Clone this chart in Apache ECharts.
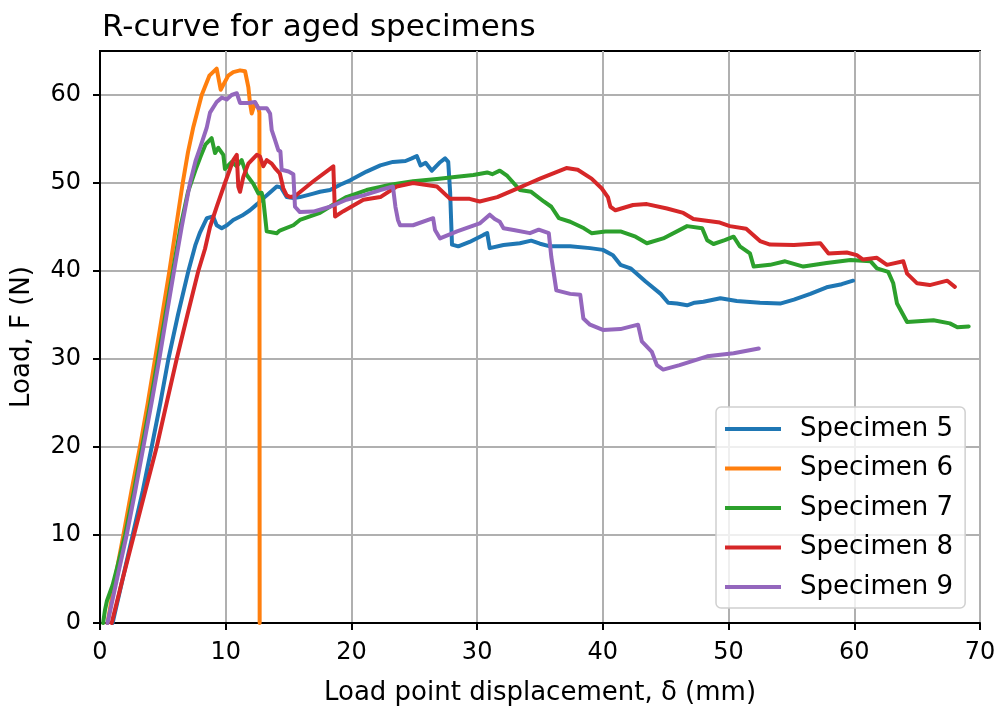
<!DOCTYPE html>
<html>
<head>
<meta charset="utf-8">
<script src="https://cdn.jsdelivr.net/npm/echarts@6/dist/echarts.min.js"></script>
<style>
html,body{margin:0;padding:0;background:#fff;}
#chart{width:999px;height:707px;}
</style>
</head>
<body>
<div id="chart"></div>
<script>
const seriesNames = ['Specimen 5','Specimen 6','Specimen 7','Specimen 8','Specimen 9'];
const colors = ['#1f77b4','#ff7f0e','#2ca02c','#d62728','#9467bd'];
const xTicks = [0,10,20,30,40,50,60,70];
const yTicks = [0,10,20,30,40,50,60];

const specimen5 = [[1.0,0],[1.8,5],[2.6,10],[3.4,15],[4.11,20],[4.8,25],[5.44,30],[6.2,35],[7.03,40],[7.6,43],[7.96,44.4],[8.5,46.0],[9.0,46.2],[9.28,45.2],[9.68,44.85],[10.1,45.2],[10.6,45.8],[11.3,46.3],[11.93,46.9],[12.5,47.6],[12.99,48.25],[13.5,48.9],[14.06,49.6],[14.4,49.5],[14.85,48.4],[15.4,48.3],[15.9,48.4],[16.97,48.8],[17.5,49.0],[18.3,49.2],[19.1,49.8],[19.9,50.3],[21.2,51.3],[22.3,52.0],[23.3,52.4],[24.3,52.5],[24.8,52.8],[25.2,53.07],[25.5,52.0],[25.9,52.3],[26.4,51.4],[27.0,52.3],[27.45,52.8],[27.7,52.4],[27.85,49],[28.0,43.0],[28.5,42.8],[29.4,43.3],[30.5,44.1],[30.8,44.3],[31.0,42.6],[32.1,42.95],[33.4,43.15],[34.3,43.45],[35.0,43.1],[35.8,42.8],[37.4,42.8],[38.98,42.6],[40.0,42.4],[40.8,41.8],[41.4,40.7],[42.2,40.3],[43.4,38.8],[44.6,37.4],[45.2,36.4],[45.9,36.3],[46.7,36.1],[47.3,36.4],[48.0,36.5],[49.35,36.9],[50.65,36.6],[52.5,36.4],[54.1,36.3],[55.2,36.75],[56.5,37.4],[57.8,38.15],[59.0,38.5],[59.9,38.9]];

const specimen6 = [[0.6,0],[1.2,5],[1.86,10],[2.5,15],[3.18,20],[3.8,25],[4.38,30],[4.95,35],[5.52,40],[6.05,45],[6.58,50],[7.0,53.5],[7.43,56.4],[8.09,60],[8.7,62.2],[9.28,63.0],[9.6,60.6],[10.2,62.2],[10.6,62.6],[11.14,62.8],[11.54,62.7],[11.8,60.9],[11.93,59.1],[12.07,57.9],[12.33,59.1],[12.6,58.5],[12.68,58],[12.7,0]];

const specimen7 = [[0.25,0],[0.4,1.5],[0.55,2.5],[0.8,3.5],[1.0,4.3],[1.4,6.5],[2.0,10],[2.7,15],[3.35,20],[4.0,25],[4.6,30],[5.2,35],[5.8,40],[6.4,45],[7.0,49],[7.6,51.5],[8.0,53],[8.4,54.4],[8.88,55.1],[9.15,53.4],[9.41,54.0],[9.81,53.2],[9.94,51.6],[10.48,52.4],[10.88,51.9],[11.27,52.6],[11.67,50.9],[12.2,49.9],[12.6,48.8],[12.86,48.9],[12.99,48.1],[13.26,44.5],[14.06,44.3],[14.3,44.6],[15.38,45.2],[15.9,45.8],[17.5,46.6],[18.5,47.5],[19.6,48.4],[21.2,49.2],[23.1,49.8],[24.9,50.2],[26.8,50.45],[28.4,50.7],[29.7,50.9],[30.8,51.2],[31.2,51.0],[31.8,51.4],[32.4,50.8],[32.9,50.0],[33.4,49.2],[34.3,49.0],[35.3,47.9],[35.9,47.3],[36.5,46.0],[37.4,45.6],[38.5,44.85],[39.1,44.3],[40.2,44.5],[41.4,44.5],[42.6,43.9],[43.5,43.15],[44.8,43.7],[46.7,45.1],[47.9,44.85],[48.3,43.5],[48.8,43.07],[49.7,43.5],[50.4,43.9],[50.9,42.8],[51.7,42.0],[52.0,40.5],[53.3,40.7],[54.5,41.1],[55.95,40.5],[57.8,40.9],[59.7,41.25],[61.3,41.1],[61.8,40.3],[62.7,39.9],[63.1,38.6],[63.4,36.3],[64.2,34.2],[66.3,34.4],[67.6,34.05],[68.2,33.6],[69.1,33.7]];

const specimen8 = [[0.93,0],[1.8,5],[2.7,10],[3.6,15],[4.51,20],[5.3,25],[6.1,30],[6.95,35],[7.82,40],[8.35,42.5],[8.75,45],[9.28,47.3],[9.94,50],[10.6,52.6],[10.88,53.2],[11.0,49.6],[11.14,49.0],[11.4,50.7],[11.8,52.2],[12.47,53.2],[12.73,53],[12.99,51.9],[13.26,52.6],[13.66,52.2],[13.92,51.7],[14.3,51.1],[14.58,49.4],[14.85,48.6],[15.1,48.4],[15.5,48.5],[16.97,50.2],[18.56,51.9],[18.7,46.2],[19.36,46.8],[20.95,48.1],[22.3,48.4],[23.6,49.6],[24.9,50.0],[26.8,49.6],[27.85,48.2],[29.4,48.2],[30.2,47.9],[31.6,48.4],[32.9,49.2],[34.2,50.0],[35.0,50.5],[37.1,51.7],[38.0,51.5],[39.1,50.5],[39.9,49.4],[40.4,48.4],[40.6,47.3],[41.0,46.9],[42.4,47.5],[43.5,47.6],[45.1,47.1],[46.4,46.6],[47.2,45.9],[49.3,45.5],[50.1,45.1],[51.4,44.8],[52.5,43.4],[53.3,43.0],[55.2,42.95],[57.3,43.15],[57.95,42.0],[59.4,42.1],[60.2,41.8],[60.7,41.3],[61.8,41.5],[62.6,40.7],[63.9,41.1],[64.2,39.7],[65.0,38.6],[66.0,38.4],[67.4,38.9],[68.0,38.2]];

const specimen9 = [[0.6,0],[1.35,5],[2.12,10],[2.8,15],[3.45,20],[4.1,25],[4.72,30],[5.3,35],[5.89,40],[6.5,45],[7.16,50],[7.6,52.5],[7.96,54],[8.49,56.3],[8.75,58.0],[9.28,59.2],[9.68,59.7],[10.08,59.5],[10.47,60.0],[10.88,60.2],[11.14,59.1],[11.8,59.1],[12.33,59.2],[12.6,58.5],[13.26,58.5],[13.53,57.9],[13.66,56.0],[13.92,54.9],[14.19,53.7],[14.35,53.6],[14.45,51.5],[15.0,51.3],[15.38,51.0],[15.51,47.3],[15.9,46.7],[16.97,46.75],[18.3,47.3],[19.6,48.1],[20.95,48.6],[22.3,49.2],[23.3,49.6],[23.5,47.3],[23.7,45.8],[23.87,45.2],[24.9,45.2],[26.5,46.0],[26.65,44.66],[27.05,43.7],[28.4,44.5],[30.2,45.4],[31.0,46.4],[31.4,45.9],[31.8,45.6],[32.1,44.85],[32.9,44.66],[34.2,44.3],[34.9,44.7],[35.7,44.3],[35.9,41.6],[36.3,37.8],[37.4,37.4],[38.2,37.3],[38.45,34.6],[38.98,33.9],[40.0,33.3],[41.4,33.4],[42.8,33.9],[43.1,32.0],[43.9,30.8],[44.3,29.3],[44.8,28.8],[46.1,29.3],[48.3,30.3],[50.4,30.65],[52.4,31.2]];

const allData = [specimen5, specimen6, specimen7, specimen8, specimen9];
const FONT = 'DejaVu Sans';

const chart = echarts.init(document.getElementById('chart'), null, {renderer:'canvas'});
chart.setOption({
  animation: false,
  backgroundColor: '#fff',
  title: {
    text: 'R-curve for aged specimens',
    left: 97, top: 7,
    textStyle: {fontFamily: FONT, fontSize: 31, fontWeight: 'normal', color: '#000'}
  },
  grid: {left: 100, right: 19, top: 51, bottom: 84, show: true, borderColor: '#000', borderWidth: 2, backgroundColor: 'transparent',
    containLabel: false, outerBoundsMode: 'none'},
  legend: {
    orient: 'vertical', left: 716, top: 407,
    data: seriesNames,
    icon: 'rect',
    itemWidth: 56, itemHeight: 4, itemGap: 13.5,
    padding: [9, 12, 8, 9],
    backgroundColor: 'rgba(255,255,255,0.8)',
    borderColor: '#d0d0d0', borderWidth: 1.5, borderRadius: 5,
    textStyle: {fontFamily: FONT, fontSize: 26, lineHeight: 26, color: '#000', padding: [0,0,0,14]}
  },
  xAxis: {
    type: 'value', min: 0, max: 70, interval: 10,
    name: 'Load point displacement, δ (mm)', nameLocation: 'middle', nameGap: 57,
    nameTextStyle: {fontFamily: FONT, fontSize: 26, color: '#000'},
    axisLine: {show: true, onZero: false, lineStyle: {color: '#000', width: 2}},
    axisTick: {show: true, inside: false, length: 7, lineStyle: {color: '#000', width: 2}},
    axisLabel: {fontFamily: FONT, fontSize: 24, color: '#000', margin: 18, customValues: xTicks},
    splitLine: {show: true, lineStyle: {color: '#b0b0b0', width: 2}}
  },
  yAxis: {
    type: 'value', min: 0, max: 65, interval: 10,
    name: 'Load, F (N)', nameLocation: 'middle', nameGap: 65,
    nameTextStyle: {fontFamily: FONT, fontSize: 26, color: '#000'},
    axisLine: {show: true, onZero: false, lineStyle: {color: '#000', width: 2}},
    axisTick: {show: true, inside: false, length: 7, lineStyle: {color: '#000', width: 2}, customValues: yTicks},
    axisLabel: {fontFamily: FONT, fontSize: 24, color: '#000', margin: 19, customValues: yTicks},
    splitLine: {show: true, lineStyle: {color: '#b0b0b0', width: 2}}
  },
  series: seriesNames.map((n, i) => ({
    name: n, type: 'line', data: allData[i], showSymbol: false, symbol: 'none',
    color: colors[i],
    lineStyle: {color: colors[i], width: 4, join: 'round', cap: 'round'},
    itemStyle: {color: colors[i]},
    clip: true
  }))
});
</script>
</body>
</html>
